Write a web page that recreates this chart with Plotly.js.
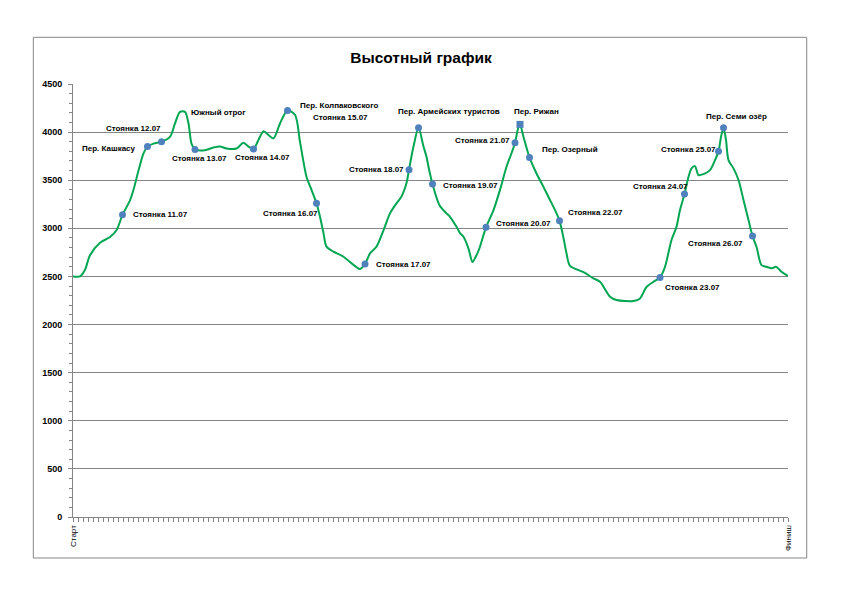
<!DOCTYPE html>
<html>
<head>
<meta charset="utf-8">
<script src="https://cdn.plot.ly/plotly-3.0.1.min.js"></script>
<style>html,body{margin:0;padding:0;background:#fff;}#chart{width:842px;height:596px;}</style>
</head>
<body>
<div id="chart"></div>
<script>
// Elevation profile: distance index (0 = Старт, 143 = Финиш) and elevation, m
const distance = [0,1.4,2.4,3.4,5.4,7.4,8.7,9.9,11.4,12.1,13.1,14.1,14.9,16.1,17.7,19.4,20.4,21.4,22.4,23.1,23.7,24.4,26.1,28.1,29.4,30.7,32.7,34.1,35.1,36.1,37.1,38.1,39.1,40.1,41.4,42.9,44.4,45.4,46.7,47.7,48.7,49.4,50.1,50.7,52.1,54.1,56.1,57.4,58.4,59.4,60.7,62.1,63.4,64.7,65.7,66.7,67.2,68.1,69.1,70.1,70.7,71.1,71.9,73.3,74.7,75.4,76.7,77.4,78.1,79.1,79.9,80.5,81.2,82.6,84.1,85.4,86.7,87.7,88.4,89.1,89.4,90.1,91.3,92.7,94.1,95.4,96.4,97.3,98.1,98.7,99.4,102.1,104.1,105.4,107.4,108.7,112.1,113.4,114.7,116.1,117.4,118.4,119.7,120.7,121.4,122.3,123.1,123.7,124.4,125.1,126.1,127.4,128.4,129.1,129.6,130.1,130.6,131.1,132.1,133.1,134.1,135.1,135.9,136.7,137.7,138.7,139.7,140.6,141.7,143];
const elevation = [2500,2500,2570,2720,2850,2910,2980,3140,3290,3400,3600,3780,3850,3880,3900,3950,4090,4210,4210,4090,3880,3820,3810,3840,3850,3830,3830,3890,3850,3825,3920,4010,3970,3935,4090,4225,4180,3900,3536,3400,3260,3120,2950,2810,2757,2705,2620,2577,2630,2740,2810,2980,3155,3260,3330,3470,3610,3850,4045,3850,3744,3640,3460,3240,3155,3120,3016,2950,2912,2790,2650,2700,2780,3010,3190,3400,3640,3780,3890,4055,4080,3950,3737,3570,3430,3295,3190,3080,2900,2740,2610,2545,2480,2445,2290,2255,2245,2272,2390,2445,2490,2600,2878,3016,3190,3356,3536,3623,3647,3553,3564,3605,3709,3800,3950,4045,3917,3709,3623,3502,3294,3086,2920,2808,2618,2601,2584,2601,2549,2505];

// Marked points (stops and passes)
const pointNames = ["Стоянка 11.07","Пер. Кашкасу","Стоянка 12.07","Стоянка 13.07","Стоянка 14.07","Пер. Колпаковского","Стоянка 16.07","Стоянка 17.07","Стоянка 18.07","Пер. Армейских туристов","Стоянка 19.07","Стоянка 20.07","Стоянка 21.07","Пер. Рижан","Пер. Озерный","Стоянка 22.07","Стоянка 23.07","Стоянка 24.07","Стоянка 25.07","Пер. Семи озёр","Стоянка 26.07"];
const pointX = [9.9,14.9,17.7,24.4,36.1,42.9,48.7,58.4,67.2,69.1,71.9,82.6,88.4,89.4,91.3,97.3,117.4,122.3,129.1,130.1,135.9];
const pointY = [3140,3850,3900,3820,3825,4225,3260,2630,3610,4045,3460,3010,3890,4080,3737,3080,2490,3356,3800,4045,2920];
const pointSymbol = ["circle","circle","circle","circle","circle","circle","circle","circle","circle","circle","circle","circle","circle","square","circle","circle","circle","circle","circle","circle","circle"];

// Extra labels without their own marker
const extraNames = ["Южный отрог","Стоянка 15.07"];
const extraX = [21.9,42.9];
const extraY = [4210,4225];

// Tick labels
const xTickText = {0:"Старт",143:"Финиш"};
const yTicks = [0,500,1000,1500,2000,2500,3000,3500,4000,4500];

// Label placement (style, kept separate from the data)
const labelStyle = [
 ["left",8,0],["right",-10,-2],["right",1,13],["center",4,-9],["center",9,-9],
 ["left",10,5],["right",3,-10],["left",9,-1],["right",-3,0],["left",-23,16],
 ["left",8,-1],["left",8,4],["right",-3,2],["left",-8,13],["left",10,8],
 ["left",6,8],["left",3,-10],["right",5,8],["right",-1,2],["left",-20,11],["right",-8,-7]
];
const extraStyle = [["left",6,-1],["left",23,-7]];

const tickvals = [], ticktext = [];
for (let i = 0; i <= 143; i++) { tickvals.push(i); ticktext.push(xTickText[i] || ""); }

const labelFont = {family:"Liberation Sans, Arial, sans-serif", size:8, color:"#000"};
const annotations = [];
pointNames.forEach((n,i)=>{
  const s = labelStyle[i];
  annotations.push({x:pointX[i], y:pointY[i], xref:"x", yref:"y", text:"<b>"+n+"</b>", showarrow:false,
    xanchor:s[0], yanchor:"middle", xshift:s[1], yshift:s[2], font:labelFont});
});
extraNames.forEach((n,i)=>{
  const s = extraStyle[i];
  annotations.push({x:extraX[i], y:extraY[i], xref:"x", yref:"y", text:"<b>"+n+"</b>", showarrow:false,
    xanchor:s[0], yanchor:"middle", xshift:s[1], yshift:s[2], font:labelFont});
});

const traces = [
  {x:distance, y:elevation, type:"scatter", mode:"lines", line:{color:"#00A651", width:2, shape:"spline", smoothing:0.8}, hoverinfo:"skip"},
  {x:pointX, y:pointY, type:"scatter", mode:"markers", marker:{color:"#4F81BD", size:7, symbol:pointSymbol}, hoverinfo:"skip"}
];

const layout = {
  width:842, height:596,
  margin:{l:73, r:54, t:84, b:79},
  paper_bgcolor:"#fff", plot_bgcolor:"#fff",
  showlegend:false,
  title:{text:"<b>Высотный график</b>", x:0.5, xanchor:"center", y:0.904, yanchor:"middle",
    font:{family:"Liberation Sans, Arial, sans-serif", size:15.5, color:"#000"}},
  xaxis:{range:[0,143], tickvals:tickvals, ticktext:ticktext, tickangle:-90, ticks:"outside", ticklen:4, tickcolor:"#868686",
    showline:true, linecolor:"#868686", linewidth:1, showgrid:false, zeroline:false,
    tickfont:{family:"Liberation Sans, Arial, sans-serif", size:8, color:"#000"}},
  yaxis:{range:[0,4500], tickvals:yTicks, ticks:"outside", ticklen:4, tickcolor:"#868686", ticklabelstandoff:4,
    showline:true, linecolor:"#868686", linewidth:1, showgrid:true, gridcolor:"#868686", gridwidth:1, zeroline:false,
    minor:{dtick:100, tick0:0, ticks:"outside", ticklen:3, tickcolor:"#868686", showgrid:false},
    tickfont:{family:"Liberation Sans, Arial, sans-serif", size:9, color:"#000", weight:"bold"}},
  annotations:annotations,
  shapes:[{type:"rect", xref:"paper", yref:"paper", x0:-0.0555, x1:1.0262, y0:-0.0947, y1:1.1078,
    line:{color:"#868686", width:1}, fillcolor:"rgba(0,0,0,0)", layer:"below"}]
};

Plotly.newPlot("chart", traces, layout, {staticPlot:true, displayModeBar:false});
</script>
</body>
</html>
